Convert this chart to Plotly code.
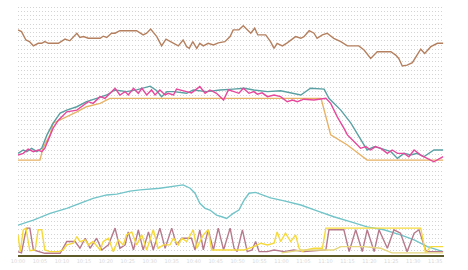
import plotly.graph_objects as go

# ---- data (x in minutes, y in chart units) ----
brown_x = [0, 0.8, 1.8, 2.6, 3.5, 4.6, 5.4, 6.1, 6.9, 9.2, 10.7, 11.8, 13.4, 14.1, 14.9, 16.0, 18.7, 19.4, 20.2,
           21.3, 22.1, 23.2, 27.0, 28.5, 29.3, 30.2, 31.6, 32.7, 33.7, 35.4, 36.5, 37.6, 38.4, 39.0, 39.8, 40.7,
           41.4, 42.2, 43.3, 44.5, 45.6, 47.1, 48.3, 49.0, 50.3, 51.3, 52.2, 53.0, 53.9, 54.6, 56.4, 57.5, 58.3,
           59.0, 60.2, 61.3, 63.2, 64.4, 65.1, 66.3, 67.4, 68.1, 69.3, 70.4, 71.9, 73.5, 75.0, 77.6, 78.8, 80.3,
           81.8, 84.9, 86.0, 86.7, 87.5, 88.6, 89.8, 91.7, 92.6, 94.0, 95.5, 96.8]
brown_y = [53.6, 53.2, 51.2, 50.8, 49.8, 50.4, 50.4, 50.8, 50.4, 50.4, 51.4, 51.0, 52.8, 51.8, 52.0, 51.6, 51.6, 52.1, 51.8,
           52.8, 52.8, 53.4, 53.4, 52.4, 52.8, 53.8, 52.0, 49.8, 51.4, 50.4, 49.8, 51.2, 49.6, 49.2, 50.8, 49.2,
           50.4, 49.8, 50.4, 50.0, 50.5, 50.8, 52.0, 53.6, 53.6, 54.6, 53.6, 52.8, 54.0, 52.4, 52.4, 50.8, 49.2,
           50.4, 49.8, 50.5, 52.0, 51.6, 52.0, 53.4, 52.8, 51.6, 52.4, 52.8, 51.6, 50.8, 49.8, 49.8, 48.8, 46.8,
           48.4, 48.4, 47.6, 46.8, 45.0, 45.2, 45.8, 49.0, 48.0, 49.6, 50.4, 50.4]

orange_x = [0, 5.0, 5.7, 7.3, 8.0, 10.3, 13.4, 15.6, 18.7, 20.9, 69.0, 71.2, 75.0, 79.5, 96.8]
orange_y = [22.6, 22.6, 25.5, 28.6, 31.4, 32.5, 34.1, 35.3, 36.1, 37.3, 37.3, 28.6, 26.2, 22.6, 22.6]

teal_x = [0, 1.2, 2.0, 3.1, 4.3, 5.4, 6.6, 8.0, 9.6, 11.1, 13.4, 15.6, 17.9, 20.2, 22.1, 24.7, 27.0, 30.1, 31.6,
          32.7, 33.9, 35.4, 38.4, 39.9, 43.0, 46.0, 49.0, 51.5, 53.7, 56.8, 59.8, 62.1, 64.4, 66.6, 69.7, 70.8,
          73.5, 75.8, 77.3, 79.5, 81.1, 82.6, 84.9, 86.4, 87.9, 89.4, 90.9, 92.4, 94.7, 96.8]
teal_y = [24.2, 25.0, 24.6, 25.4, 24.6, 25.4, 28.6, 31.4, 33.8, 34.5, 35.3, 36.5, 37.3, 38.1, 39.3, 38.9, 39.3, 40.2, 39.1,
          37.7, 38.9, 38.9, 38.5, 39.3, 38.9, 39.3, 39.5, 39.7, 39.3, 38.9, 39.1, 38.6, 38.1, 39.7, 39.5, 37.3,
          34.5, 31.4, 28.8, 25.0, 25.8, 25.4, 24.6, 23.0, 24.2, 23.8, 24.2, 23.4, 25.0, 25.0]

pink_x = [0, 1.2, 2.3, 3.5, 4.6, 5.4, 6.1, 8.0, 9.2, 11.1, 13.4, 14.9, 16.0, 17.1, 18.7, 19.8, 20.9, 22.1, 23.2,
          24.4, 25.1, 26.3, 27.4, 28.2, 29.3, 30.4, 31.2, 32.3, 33.5, 34.2, 35.4, 36.1, 38.4, 39.5, 41.4, 42.6,
          43.7, 45.2, 46.8, 47.9, 49.2, 50.3, 51.3, 52.6, 53.7, 54.5, 55.6, 56.8, 58.3, 59.8, 61.3, 62.5, 63.6,
          65.1, 67.4, 68.9, 70.1, 71.2, 72.7, 74.2, 75.0, 76.5, 78.0, 79.2, 80.3, 81.4, 82.6, 84.1, 85.2, 86.4,
          87.9, 89.0, 90.2, 91.7, 93.2, 94.7, 96.8]
pink_y = [23.8, 24.2, 25.2, 24.6, 25.0, 24.6, 25.4, 30.2, 32.1, 34.1, 34.5, 35.7, 36.5, 36.1, 37.7, 37.3, 38.5, 39.7, 38.1,
          38.9, 38.1, 39.7, 38.5, 39.7, 38.1, 39.3, 38.1, 39.3, 38.1, 38.5, 38.1, 39.5, 38.9, 38.6, 40.1, 38.5,
          39.3, 38.5, 36.9, 39.3, 38.9, 38.5, 39.7, 38.5, 38.9, 38.3, 38.6, 37.7, 38.1, 37.7, 36.5, 36.9, 36.5,
          37.1, 36.9, 37.1, 37.3, 36.1, 32.9, 30.2, 28.6, 27.0, 25.4, 25.8, 25.0, 25.8, 25.4, 24.2, 25.0, 24.2,
          24.2, 23.4, 25.0, 23.8, 23.0, 22.2, 23.4]

cyan_x = [0, 3.5, 7.3, 11.1, 14.1, 17.1, 20.2, 22.5, 25.5, 27.8, 32.3, 34.6, 37.6, 39.2, 40.3, 41.4, 42.6, 43.7,
          45.2, 46.4, 47.5, 49.0, 50.3, 51.5, 52.6, 54.1, 55.3, 57.5, 60.6, 64.4, 68.1, 71.9, 75.8, 79.5, 83.3,
          87.1, 90.2, 93.2, 96.8]
cyan_y = [7.1, 8.3, 9.9, 11.1, 12.3, 13.5, 14.3, 14.5, 15.2, 15.5, 15.9, 16.3, 16.7, 15.9, 14.7, 12.3, 11.1, 10.7,
          9.5, 9.1, 8.7, 9.9, 10.7, 13.1, 14.7, 14.9, 14.5, 13.6, 12.9, 11.9, 10.5, 9.1, 7.9, 6.7, 6.0,
          4.8, 3.6, 2.0, 0.8]

mauve_x = [0, 0.8, 1.6, 2.0, 2.7, 3.5, 6.1, 9.6, 11.1, 13.0, 14.1, 15.3, 16.4, 17.9, 19.1, 20.6, 22.1, 23.2, 24.4,
           25.1, 26.3, 27.4, 28.5, 29.7, 30.8, 32.3, 33.5, 35.0, 36.1, 37.3, 39.5, 40.3, 41.4, 42.2, 43.3, 44.5,
           45.6, 46.8, 48.3, 49.2, 49.9, 51.1, 52.2, 53.3, 54.1, 54.9, 56.8, 58.3, 60.6, 62.8, 65.1, 68.1, 70.1,
           70.8, 74.2, 75.4, 76.9, 78.4, 79.5, 81.1, 82.2, 84.1, 85.6, 87.1, 88.6, 90.2, 91.3, 92.8, 93.2, 96.8]
mauve_y = [0.8, 0.5, 4.8, 6.4, 6.4, 1.2, 0.4, 0.4, 3.2, 3.2, 1.6, 4.0, 1.6, 4.0, 1.2, 2.4, 6.4, 1.6, 2.4,
           5.5, 1.2, 6.0, 1.2, 5.5, 1.2, 6.4, 1.6, 6.4, 2.4, 4.0, 4.0, 1.2, 6.0, 1.2, 6.0, 1.2,
           6.4, 1.2, 6.4, 1.6, 0.8, 6.0, 0.8, 1.2, 3.2, 0.8, 0.8, 1.2, 0.8, 1.2, 0.8, 1.0, 1.2,
           6.0, 6.0, 0.8, 6.0, 0.8, 6.0, 0.8, 6.0, 1.6, 6.0, 5.2, 0.8, 5.2, 6.0, 1.2, 0.8, 0.8]

yellow_x = [0, 0.5, 1.2, 1.8, 2.7, 3.9, 4.6, 5.4, 6.1, 7.3, 9.2, 10.3, 11.1, 12.6, 13.4, 14.1, 15.3, 16.0, 17.1,
            18.7, 19.4, 20.6, 21.7, 22.8, 24.0, 24.7, 25.9, 27.0, 28.2, 29.3, 30.8, 31.9, 33.1, 34.6, 35.4, 36.5,
            37.3, 38.4, 39.9, 40.7, 42.2, 43.3, 44.1, 46.4, 49.2, 51.5, 53.7, 55.3, 56.8, 58.3, 59.0, 59.8, 60.9,
            62.1, 63.2, 64.0, 64.7, 65.5, 67.4, 69.3, 70.1, 91.7, 92.8, 94.0, 96.8]
yellow_y = [4.8, 0.8, 6.0, 6.4, 1.0, 1.2, 6.0, 6.0, 1.2, 0.8, 0.8, 1.2, 2.4, 2.8, 4.4, 3.2, 3.6, 2.4, 3.2,
            1.2, 3.2, 4.0, 0.8, 3.6, 2.4, 4.8, 5.5, 2.4, 4.8, 1.2, 6.0, 1.6, 2.4, 2.4, 4.0, 2.4,
            4.0, 3.2, 6.0, 1.6, 4.8, 6.0, 1.2, 1.2, 1.2, 1.2, 2.0, 2.8, 2.4, 2.8, 5.5, 3.2, 5.2,
            3.2, 4.8, 1.6, 0.8, 1.2, 1.6, 1.6, 6.4, 6.4, 0.5, 2.0, 2.0]

khaki_x = [60.0, 64.7, 71.9, 73.5, 78.8, 82.6, 85.1, 96.8]
khaki_y = [0.5, 1.2, 1.2, 2.0, 2.0, 1.6, 0.5, 0.5]

tick_vals = list(range(0, 100, 5))
tick_text = ["10:%02d" % v if v < 60 else "11:%02d" % (v - 60) for v in tick_vals]

series = [
    ("brown", brown_x, brown_y, "#b5805f"),
    ("cyan", cyan_x, cyan_y, "#72c4c8"),
    ("mauve", mauve_x, mauve_y, "#b67a8c"),
    ("yellow", yellow_x, yellow_y, "#f6da3c"),
    ("khaki", khaki_x, khaki_y, "#e6d67e"),
    ("orange", orange_x, orange_y, "#e8b266"),
    ("teal", teal_x, teal_y, "#5aa0a2"),
    ("pink", pink_x, pink_y, "#e6489c"),
]

fig = go.Figure()
for name, xs, ys, col in series:
    fig.add_trace(go.Scatter(x=xs, y=ys, mode="lines", name=name,
                             line=dict(color=col, width=1.4), showlegend=False))

fig.update_layout(
    width=468, height=270,
    margin=dict(l=18, r=24, t=3, b=15),
    paper_bgcolor="white", plot_bgcolor="white",
    xaxis=dict(range=[0, 97], showgrid=False, zeroline=False,
               showline=True, linecolor="#5c5a28", linewidth=2,
               tickmode="array", tickvals=tick_vals, ticktext=tick_text,
               tickfont=dict(size=5, color="#d8d8d8", family="DejaVu Sans"),
               ticks="", ticklen=0),
    yaxis=dict(range=[0, 60], dtick=1, showgrid=True, gridcolor="#d4d4d4",
               griddash="1px,2px", gridwidth=1, zeroline=False, showticklabels=False,
               showline=False),
)

fig.write_html("out.html")
